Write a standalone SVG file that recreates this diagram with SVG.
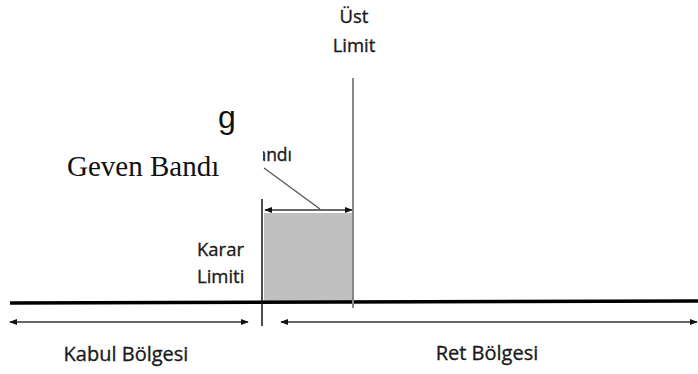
<svg xmlns="http://www.w3.org/2000/svg" width="698" height="374" viewBox="0 0 698 374">
  <style>
    .lbl { font-family: "Open Sans", "Liberation Sans", sans-serif; fill: #1a1a1a; stroke: #1a1a1a; stroke-width: 0.35; }
    .serif { font-family: "Liberation Serif", serif; fill: #111; }
    .dim { stroke: #333; stroke-width: 1.5; fill: none; }
  </style>
  <defs>
    <marker id="ah" viewBox="0 0 10 10" refX="9" refY="5" markerWidth="8" markerHeight="8" markerUnits="userSpaceOnUse" orient="auto-start-reverse">
      <path d="M0,1 L10,5 L0,9 z" fill="#111"/>
    </marker>
    <clipPath id="bandClip">
      <rect x="263" y="130" width="60" height="40"/>
    </clipPath>
  </defs>

  <rect width="698" height="374" fill="#fff"/>

  <!-- tolerance band -->
  <g id="band">
    <rect x="264" y="213" width="88" height="89" fill="#c0c0c0"/>
  </g>

  <g id="connectors">
    <!-- axis -->
    <line x1="10" y1="303" x2="698" y2="301" stroke="#000" stroke-width="3.5"/>
    <!-- decision limit -->
    <line x1="262" y1="199" x2="262" y2="326" stroke="#111" stroke-width="1.5"/>
    <!-- upper limit -->
    <line x1="353" y1="78" x2="353" y2="308" stroke="#888" stroke-width="2"/>
    <!-- band width -->
    <line class="dim" x1="265" y1="210" x2="352" y2="210" marker-start="url(#ah)" marker-end="url(#ah)"/>
    <line x1="264" y1="168" x2="320" y2="209" stroke="#555" stroke-width="1.3"/>
    <!-- zones -->
    <line class="dim" x1="10" y1="322" x2="248" y2="322" marker-start="url(#ah)" marker-end="url(#ah)"/>
    <line class="dim" x1="281" y1="322" x2="697" y2="322" marker-start="url(#ah)" marker-end="url(#ah)"/>
  </g>

  <g id="ust-limit">
    <text class="lbl" x="354" y="23" font-size="18.5" text-anchor="middle">Üst</text>
    <text class="lbl" x="354" y="52" font-size="18.5" text-anchor="middle">Limit</text>
  </g>

  <g id="karar-limiti">
    <text class="lbl" x="197" y="256" font-size="18.5">Karar</text>
    <text class="lbl" x="197" y="283" font-size="18.5">Limiti</text>
  </g>

  <g id="g-mark">
    <text x="218" y="128" font-family="Liberation Sans, sans-serif" font-size="32" fill="#111">g</text>
  </g>

  <g id="geven-bandi">
    <text class="serif" x="67" y="176" font-size="29">Geven Bandı</text>
  </g>

  <g id="bandi-clipped" clip-path="url(#bandClip)">
    <text class="lbl" x="292" y="161" font-size="17.5" text-anchor="end">Bandı</text>
  </g>

  <g id="kabul">
    <text class="lbl" x="126" y="361" font-size="20" text-anchor="middle">Kabul Bölgesi</text>
  </g>

  <g id="ret">
    <text class="lbl" x="487" y="360" font-size="20" text-anchor="middle">Ret Bölgesi</text>
  </g>
</svg>
